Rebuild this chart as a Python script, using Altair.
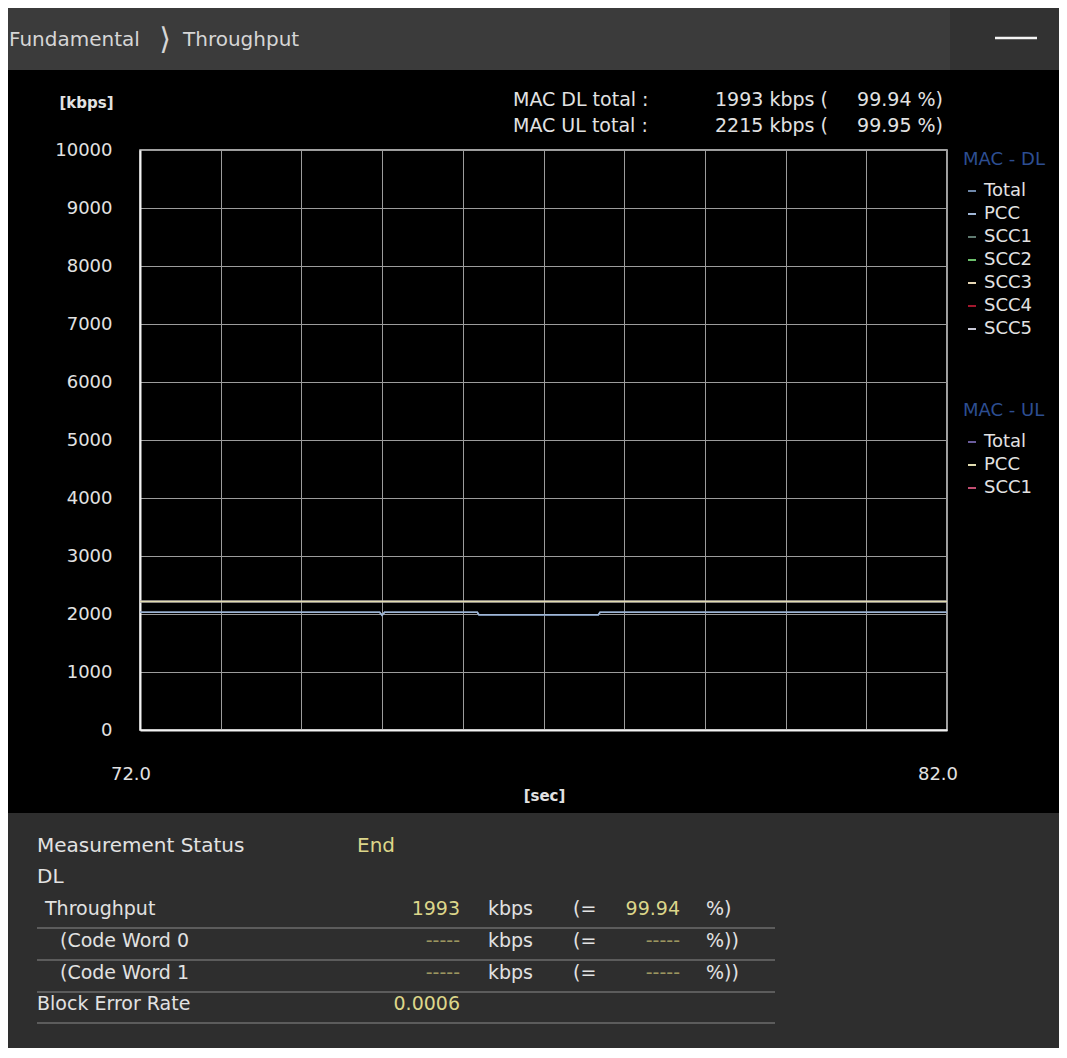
import altair as alt
import pandas as pd

# ---------------- data ----------------
DL_TIME = [72.0, 74.97, 75.0, 75.03, 76.18, 76.2, 77.68, 77.7, 82.0]
DL_TOTAL = [2030, 2030, 1975, 2030, 2030, 1985, 1985, 2030, 2030]
DL_PCC = [2030, 2030, 1978, 2030, 2030, 1988, 1988, 2030, 2030]
UL_TIME = [72.0, 82.0]
UL_TOTAL = [2215, 2215]
UL_PCC = [2215, 2215]

DL_SERIES = ["Total", "PCC", "SCC1", "SCC2", "SCC3", "SCC4", "SCC5"]
DL_COLORS = ["#6f88aa", "#9fb6d6", "#5f7a70", "#6cc06c", "#e6d6b4", "#a3182e", "#c8c8d6"]
UL_SERIES = ["Total", "PCC", "SCC1"]
UL_COLORS = ["#6a5c9c", "#e2ddb0", "#c24e72"]

X_TICKS = [72, 73, 74, 75, 76, 77, 78, 79, 80, 81, 82]
X_LABELED = [72.0, 82.0]
Y_TICKS = [0, 1000, 2000, 3000, 4000, 5000, 6000, 7000, 8000, 9000, 10000]

BREADCRUMB = ["Fundamental", "\u27e9", "Throughput"]
HEADER_LABELS = ["MAC DL total :", "MAC UL total :"]
HEADER_VALUES = ["1993 kbps (", "2215 kbps ("]
HEADER_PCTS = ["99.94 %)", "99.95 %)"]

STATUS = ["Measurement Status", "End"]
SECTION = "DL"
ROW_NAMES = ["Throughput", "(Code Word 0", "(Code Word 1", "Block Error Rate"]
ROW_VALUES = ["1993", "-----", "-----", "0.0006"]
ROW_UNITS = ["kbps", "kbps", "kbps", ""]
ROW_EQ = ["(=", "(=", "(=", ""]
ROW_PCTS = ["99.94", "-----", "-----", ""]
ROW_CLOSE = ["%)", "%))", "%))", ""]

FONT = "DejaVu Sans"
WHITE = "#e2e2e2"
YELLOW = "#dcd68a"
DIM_YELLOW = "#9c9660"

ONE = pd.DataFrame({"k": [0]})


def txt(s, x, y, color=WHITE, size=19, align="left", font=FONT, weight="normal"):
    return alt.Chart(ONE).mark_text(
        text=s, align=align, baseline="middle", font=font, fontSize=size,
        color=color, fontWeight=weight
    ).encode(x=alt.value(x), y=alt.value(y))


def rect(x1, x2, y1, y2, color):
    return alt.Chart(ONE).mark_rect(color=color).encode(
        x=alt.value(x1), x2=alt.value(x2), y=alt.value(y1), y2=alt.value(y2))


def hrule(x1, x2, y, color, w):
    return alt.Chart(ONE).mark_rule(color=color, strokeWidth=w).encode(
        x=alt.value(x1), x2=alt.value(x2), y=alt.value(y))


# ---------------- data tables ----------------
dl_df = pd.DataFrame({
    "time": DL_TIME + DL_TIME,
    "kbps": DL_TOTAL + DL_PCC,
    "dl": ["Total"] * len(DL_TIME) + ["PCC"] * len(DL_TIME),
})
ul_df = pd.DataFrame({
    "time": UL_TIME + UL_TIME,
    "kbps": UL_TOTAL + UL_PCC,
    "ul": ["Total"] * len(UL_TIME) + ["PCC"] * len(UL_TIME),
})
xl_df = pd.DataFrame({"time": X_LABELED})

x_axis = alt.Axis(
    values=X_TICKS, grid=True, gridColor="#9c9c9c", gridWidth=1,
    domain=True, domainColor="#f2f2f2", domainWidth=2,
    ticks=False, tickSize=0, labels=False,
    title="[sec]", titleX=404, titleY=65, titleAlign="center", titleBaseline="middle",
    titleColor=WHITE, titleFont=FONT, titleFontSize=15, titleFontWeight="bold",
)
y_axis = alt.Axis(
    values=Y_TICKS, grid=True, gridColor="#9c9c9c", gridWidth=1,
    domain=True, domainColor="#f2f2f2", domainWidth=2,
    ticks=False, tickSize=0, labelOverlap=False, labelFlush=False, format="d",
    labelColor=WHITE, labelFont=FONT, labelFontSize=18, labelPadding=28,
    title="[kbps]", titleAngle=0, titleX=-54, titleY=-48, titleAlign="center",
    titleBaseline="middle", titleColor=WHITE, titleFont=FONT, titleFontSize=15,
    titleFontWeight="bold",
)

XSCALE = alt.Scale(domain=[72, 82], nice=False, zero=False)
YSCALE = alt.Scale(domain=[0, 10000], nice=False)

legend_common = dict(
    orient="none", padding=0, titlePadding=13, rowPadding=5,
    symbolType="stroke", symbolSize=64, symbolStrokeWidth=2, labelOffset=3,
    labelFont=FONT, labelFontSize=18, labelColor=WHITE,
    titleFont=FONT, titleFontSize=18, titleColor="#2d4e92", titleFontWeight="normal",
)

dl_lines = alt.Chart(dl_df).mark_line(strokeWidth=1.6).encode(
    x=alt.X("time:Q", scale=XSCALE, axis=x_axis),
    y=alt.Y("kbps:Q", scale=YSCALE, axis=y_axis),
    color=alt.Color("dl:N", scale=alt.Scale(domain=DL_SERIES, range=DL_COLORS),
                    legend=alt.Legend(title="MAC - DL", legendX=823, legendY=1, **legend_common)),
)
ul_lines = alt.Chart(ul_df).mark_line(strokeWidth=2).encode(
    x=alt.X("time:Q", scale=XSCALE, axis=x_axis),
    y=alt.Y("kbps:Q", scale=YSCALE, axis=y_axis),
    color=alt.Color("ul:N", scale=alt.Scale(domain=UL_SERIES, range=UL_COLORS),
                    legend=alt.Legend(title="MAC - UL", legendX=823, legendY=252, **legend_common)),
)
x_labels = alt.Chart(xl_df).mark_text(
    font=FONT, fontSize=18, color=WHITE, baseline="middle", align="center", dx=-9
).encode(
    x=alt.X("time:Q", scale=XSCALE),
    y=alt.value(625),
    text=alt.Text("time:Q", format=".1f"),
)

layers = []
# top bar and bottom panel
layers.append(rect(-140, 810, -150, -80, "#3b3b3b"))
layers.append(rect(810, 940, -150, -80, "#323232"))
layers.append(rect(-140, 940, 663, 930, "#2e2e2e"))

# breadcrumb
layers.append(txt(BREADCRUMB[0], -131, -110, color="#d6d6d6", size=20))
layers.append(txt(BREADCRUMB[1], 25, -110, color="#d6d6d6", size=30, align="center"))
layers.append(txt(BREADCRUMB[2], 43, -110, color="#d6d6d6", size=20))
layers.append(hrule(855, 897, -112, "#f4f4f4", 2.5))

# header totals
for i, yy in enumerate([-50, -24]):
    layers.append(txt(HEADER_LABELS[i], 373, yy, size=19))
    layers.append(txt(HEADER_VALUES[i], 575, yy, size=19))
    layers.append(txt(HEADER_PCTS[i], 803, yy, size=19, align="right"))

# lines
layers.append(dl_lines)
layers.append(ul_lines)
layers.append(x_labels)

# bottom table
layers.append(txt(STATUS[0], -103, 696, size=20))
layers.append(txt(STATUS[1], 217, 696, color=YELLOW, size=20))
layers.append(txt(SECTION, -103, 727, size=20))
row_y = [759, 791, 823, 854]
name_x = [-95, -80, -80, -103]
for i, yy in enumerate(row_y):
    layers.append(txt(ROW_NAMES[i], name_x[i], yy))
    vcol = YELLOW if ROW_VALUES[i] != "-----" else DIM_YELLOW
    layers.append(txt(ROW_VALUES[i], 320, yy, color=vcol, align="right"))
    if ROW_UNITS[i]:
        layers.append(txt(ROW_UNITS[i], 348, yy))
        layers.append(txt(ROW_EQ[i], 433, yy))
        pcol = YELLOW if ROW_PCTS[i] != "-----" else DIM_YELLOW
        layers.append(txt(ROW_PCTS[i], 540, yy, color=pcol, align="right"))
        layers.append(txt(ROW_CLOSE[i], 566, yy))
    layers.append(hrule(-103, 635, yy + 19, "#6c6c6c", 1.5))

chart = alt.layer(*layers).resolve_scale(color="independent").properties(
    width=807, height=580,
    padding={"left": 132, "top": 142, "right": 112, "bottom": 318},
    autosize=alt.AutoSizeParams(type="none"),
    background="#000000",
).configure_view(stroke="#d8d8d8", strokeWidth=1.5)

chart.save("out.html", embed_options={"renderer": "svg", "actions": False})
